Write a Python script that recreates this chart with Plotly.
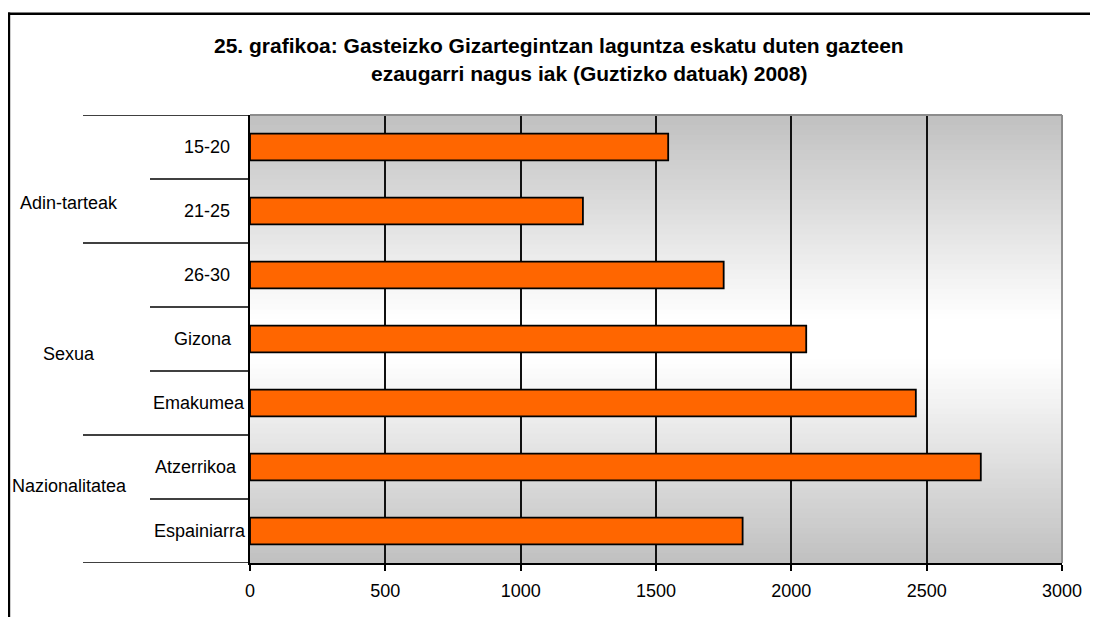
import plotly.graph_objects as go

# ---- data ----
categories = ["15-20", "21-25", "26-30", "Gizona", "Emakumea", "Atzerrikoa", "Espainiarra"]
values = [1545, 1230, 1750, 2055, 2460, 2700, 1820]
groups = ["Adin-tarteak", "Sexua", "Nazionalitatea"]
group_sizes = [2, 3, 2]
x_ticks = [0, 500, 1000, 1500, 2000, 2500, 3000]
title_line1 = "25. grafikoa: Gasteizko Gizartegintzan laguntza eskatu duten gazteen"
title_line2 = "ezaugarri nagus iak (Guztizko datuak) 2008)"

# ---- layout geometry (page pixels; the page body has an 8px margin) ----
OFF = 8
PAGE_W, PAGE_H = 1098, 617
W, H = PAGE_W - OFF, PAGE_H - OFF
PLOT_L, PLOT_R, PLOT_T, PLOT_B = 250, 1062, 115, 563   # page coords of plot area
L, R, T, B = PLOT_L - OFF, PAGE_W - PLOT_R, PLOT_T - OFF, PAGE_H - PLOT_B
PW, PH = PLOT_R - PLOT_L, PLOT_B - PLOT_T
label_centers_px = [207, 207, 207, 203, 199, 196, 200]   # horizontal label placement
group_label_py = [203, 354, 486]


def px_x(px):
    return (px - PLOT_L) / PW


def px_y(py):
    return (PLOT_B - py) / PH


FONT = "Liberation Sans, Arial, sans-serif"

fig = go.Figure()
fig.add_trace(go.Bar(
    y=categories, x=values, orientation="h",
    marker=dict(color="#FF6600", line=dict(color="#000000", width=1.8)),
    width=0.42, hoverinfo="x+y",
))

shapes = []
# gradient background: gray -> white -> gray
N = 90
for i in range(N):
    t0, t1 = i / N, (i + 1) / N
    tm = (t0 + t1) / 2
    f = 1 - abs(2 * tm - 1)
    c = int(round(192 + (255 - 192) * min(1.0, f * 1.1)))
    col = f"rgb({c},{c},{c})"
    shapes.append(dict(type="rect", xref="paper", yref="paper", x0=0, x1=1,
                       y0=t0, y1=min(1, t1 + 0.002), fillcolor=col,
                       line=dict(width=0), layer="below"))

# top and right plot border (gray)
shapes.append(dict(type="line", xref="paper", yref="paper", x0=0, x1=1, y0=1, y1=1,
                   line=dict(color="#8c8c8c", width=2)))
shapes.append(dict(type="line", xref="paper", yref="paper", x0=1, x1=1, y0=0, y1=1,
                   line=dict(color="#8c8c8c", width=2)))

# category separators on the left (long at group boundaries, short otherwise)
n = len(categories)
group_bounds = [0]
for s in group_sizes:
    group_bounds.append(group_bounds[-1] + s)
for k in range(n + 1):
    yv = k - 0.5
    long_line = k in group_bounds
    shapes.append(dict(type="line", xref="paper", yref="y",
                       x0=px_x(83) if long_line else px_x(150), x1=0,
                       y0=yv, y1=yv, line=dict(color="#000000", width=1.5)))

# outer frame (left and top)
shapes.append(dict(type="line", xref="paper", yref="paper",
                   x0=px_x(8.7), x1=px_x(8.7), y0=px_y(12.5), y1=px_y(640),
                   line=dict(color="#000000", width=3)))
shapes.append(dict(type="line", xref="paper", yref="paper",
                   x0=px_x(7.2), x1=px_x(1120), y0=px_y(13.8), y1=px_y(13.8),
                   line=dict(color="#000000", width=2.5)))

annotations = []
for cat, cx in zip(categories, label_centers_px):
    annotations.append(dict(text=cat, xref="paper", yref="y", x=px_x(cx), y=cat,
                            xanchor="center", yanchor="middle", showarrow=False,
                            font=dict(family=FONT, size=18, color="#000000")))

for g, py in zip(groups, group_label_py):
    annotations.append(dict(text=g, xref="paper", yref="paper", x=px_x(69), y=px_y(py),
                            xanchor="center", yanchor="middle", showarrow=False,
                            font=dict(family=FONT, size=18, color="#000000")))

annotations.append(dict(text="<b>" + title_line1 + "</b>", xref="paper", yref="paper",
                        x=px_x(559), y=px_y(46), xanchor="center", yanchor="middle",
                        showarrow=False, font=dict(family=FONT, size=21, color="#000000")))
annotations.append(dict(text="<b>" + title_line2 + "</b>", xref="paper", yref="paper",
                        x=px_x(589), y=px_y(74), xanchor="center", yanchor="middle",
                        showarrow=False, font=dict(family=FONT, size=21, color="#000000")))

fig.update_layout(
    width=W, height=H,
    margin=dict(l=L, r=R, t=T, b=B, pad=0),
    paper_bgcolor="#ffffff",
    plot_bgcolor="#c0c0c0",
    showlegend=False,
    shapes=shapes,
    annotations=annotations,
    xaxis=dict(range=[0, 3000], tickvals=x_ticks, ticktext=[str(v) for v in x_ticks],
               showgrid=True, gridcolor="#111111", gridwidth=1.5,
               showline=True, linecolor="#000000", linewidth=1.5,
               ticks="outside", ticklen=6, tickwidth=1.5, tickcolor="#000000",
               ticklabelstandoff=5,
               tickfont=dict(family=FONT, size=18, color="#000000"),
               zeroline=False, fixedrange=True),
    yaxis=dict(categoryorder="array", categoryarray=categories, autorange=False,
               range=[n - 0.5, -0.5], showticklabels=False, ticks="",
               showgrid=False, showline=True, linecolor="#000000", linewidth=2,
               zeroline=False, fixedrange=True),
)

fig.write_html("out.html")
